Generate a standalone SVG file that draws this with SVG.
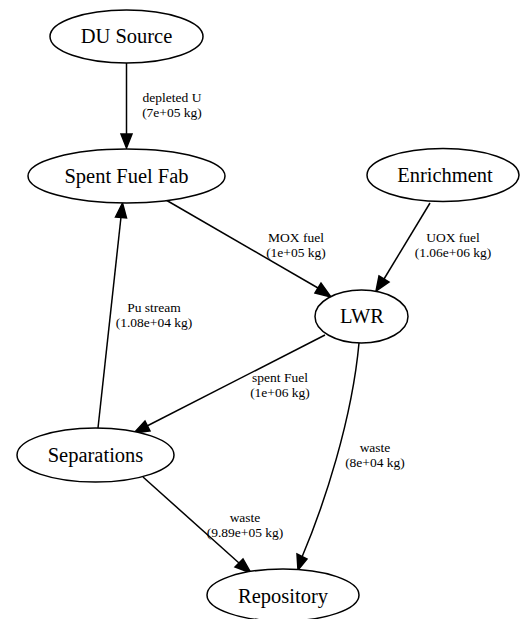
<svg xmlns="http://www.w3.org/2000/svg" width="521" height="619" viewBox="0 0 521 619">
<style>
.node ellipse{fill:#fff;stroke:#000;stroke-width:1.5}
.edge path{fill:none;stroke:#000;stroke-width:1.5}
.edge polygon{fill:#000;stroke:#000;stroke-width:1.5}
.lbl{font-family:'Liberation Serif','DejaVu Serif',serif;font-size:13.5px;fill:#000;text-anchor:middle}
.nl{font-family:'Liberation Serif','Times New Roman',Times,serif;font-size:20.5px;fill:#000;text-anchor:middle}
</style>
<rect width="521" height="619" fill="#fff"/>
<g id="edges" class="edge">
  <g id="e_du_sff">
    <path d="M126.5,63 L126.5,134"/>
    <polygon points="121,134 132,134 126.5,148"/>
    <text class="lbl" x="172" y="102">depleted U</text>
    <text class="lbl" x="172" y="117">(7e+05 kg)</text>
  </g>
  <g id="e_sff_lwr">
    <path d="M166,200 L318,288"/>
    <polygon points="315,293 321,283 331,297"/>
    <text class="lbl" x="296" y="242">MOX fuel</text>
    <text class="lbl" x="296" y="257">(1e+05 kg)</text>
  </g>
  <g id="e_enr_lwr">
    <path d="M430,203 L384,279"/>
    <polygon points="379,276 389,282 376,291"/>
    <text class="lbl" x="453" y="242">UOX fuel</text>
    <text class="lbl" x="453" y="257">(1.06e+06 kg)</text>
  </g>
  <g id="e_lwr_sep">
    <path d="M325,335 L147,426"/>
    <polygon points="145,421 150,431 134,433"/>
    <text class="lbl" x="280" y="382">spent Fuel</text>
    <text class="lbl" x="280" y="397">(1e+06 kg)</text>
  </g>
  <g id="e_sep_sff">
    <path d="M98,428 L121,217"/>
    <polygon points="115.5,217 126.5,218 122.5,203"/>
    <text class="lbl" x="154" y="312">Pu stream</text>
    <text class="lbl" x="154" y="327">(1.08e+04 kg)</text>
  </g>
  <g id="e_lwr_rep">
    <path d="M359,343 C352,420 324,505 302,557"/>
    <polygon points="297,554 307,559 298,570"/>
    <text class="lbl" x="375" y="452">waste</text>
    <text class="lbl" x="375" y="467">(8e+04 kg)</text>
  </g>
  <g id="e_sep_rep">
    <path d="M143,477 L239,563"/>
    <polygon points="235,567 243,559 251,573"/>
    <text class="lbl" x="245" y="522">waste</text>
    <text class="lbl" x="245" y="537">(9.89e+05 kg)</text>
  </g>
</g>
<g id="n_du" class="node"><ellipse cx="126.5" cy="36.5" rx="76.5" ry="26.5"/><text class="nl" x="126.5" y="43">DU Source</text></g>
<g id="n_sff" class="node"><ellipse cx="126.5" cy="176" rx="98.5" ry="27"/><text class="nl" x="126.5" y="183">Spent Fuel Fab</text></g>
<g id="n_enr" class="node"><ellipse cx="443" cy="175" rx="76" ry="26.5"/><text class="nl" x="445" y="182">Enrichment</text></g>
<g id="n_lwr" class="node"><ellipse cx="361.5" cy="316.5" rx="46.5" ry="26.5"/><text class="nl" x="362" y="323">LWR</text></g>
<g id="n_sep" class="node"><ellipse cx="95.5" cy="455" rx="78.5" ry="27"/><text class="nl" x="95.5" y="462">Separations</text></g>
<g id="n_rep" class="node"><ellipse cx="283" cy="595" rx="76" ry="26"/><text class="nl" x="283" y="603">Repository</text></g>
</svg>
